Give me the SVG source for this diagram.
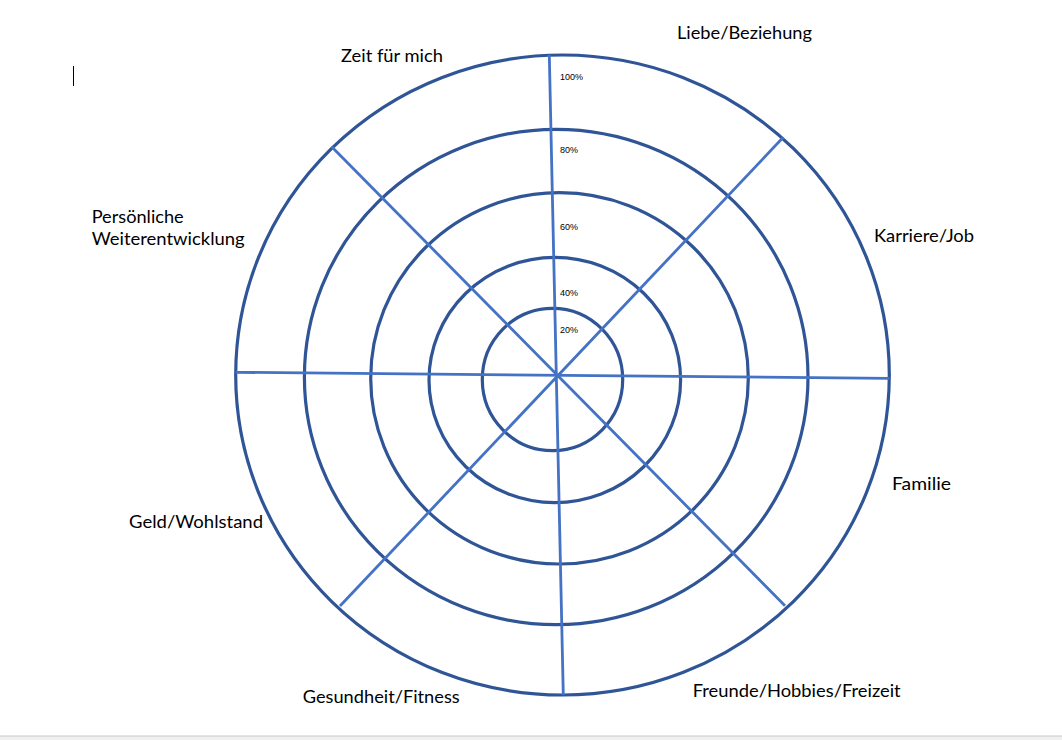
<svg xmlns="http://www.w3.org/2000/svg" width="1062" height="740" viewBox="0 0 1062 740">
  <style>
    .ring { fill: none; stroke: #2F5597; stroke-width: 3.2; }
    .spoke { stroke: #4472C4; stroke-width: 2.8; stroke-linecap: butt; }
    .lbl { font-family: Lato, "Liberation Sans", Arial, sans-serif; font-size: 18px; fill: #000; }
    .pct { font-family: "Liberation Sans", Arial, sans-serif; font-size: 9px; fill: #000; }
  </style>
  <rect x="0" y="0" width="1062" height="740" fill="#ffffff"/>
  <rect x="0" y="736" width="1062" height="4" fill="#f0f0f0"/>
  <line x1="0" y1="736" x2="1062" y2="736" stroke="#c8c8c8" stroke-width="1"/>
  <line x1="73.5" y1="66" x2="73.5" y2="86" stroke="#000" stroke-width="1"/>

  <g id="rings">
    <ellipse id="ring100" class="ring" cx="562.5" cy="375" rx="326.8" ry="320"/>
    <ellipse id="ring80" class="ring" cx="556.2" cy="377" rx="251.8" ry="247.7"/>
    <ellipse id="ring60" class="ring" cx="559.5" cy="378.3" rx="188.8" ry="185.7"/>
    <ellipse id="ring40" class="ring" cx="554.8" cy="380" rx="125.8" ry="122.7"/>
    <ellipse id="ring20" class="ring" cx="552.5" cy="379.5" rx="70.2" ry="71.2"/>
  </g>

  <g id="connectors">
    <line class="spoke" x1="549.3" y1="55" x2="563.3" y2="695"/>
    <line class="spoke" x1="235.7" y1="372.3" x2="889.3" y2="378.3"/>
    <line class="spoke" x1="331.7" y1="146.7" x2="785" y2="605.7"/>
    <line class="spoke" x1="783.3" y1="137.3" x2="340" y2="606"/>
  </g>

  <g id="percent-labels">
    <text class="pct" x="560" y="80">100%</text>
    <text class="pct" x="560" y="152.5">80%</text>
    <text class="pct" x="560" y="229.5">60%</text>
    <text class="pct" x="560" y="295.5">40%</text>
    <text class="pct" x="560" y="333">20%</text>
  </g>

  <g id="label-liebe"><text class="lbl" x="677" y="39" textLength="135" lengthAdjust="spacingAndGlyphs">Liebe/Beziehung</text></g>
  <g id="label-karriere"><text class="lbl" x="874" y="242" textLength="100" lengthAdjust="spacingAndGlyphs">Karriere/Job</text></g>
  <g id="label-familie"><text class="lbl" x="892" y="490" textLength="59" lengthAdjust="spacingAndGlyphs">Familie</text></g>
  <g id="label-freunde"><text class="lbl" x="692.7" y="696.7" textLength="208" lengthAdjust="spacingAndGlyphs">Freunde/Hobbies/Freizeit</text></g>
  <g id="label-gesundheit"><text class="lbl" x="302.7" y="703.3" textLength="157" lengthAdjust="spacingAndGlyphs">Gesundheit/Fitness</text></g>
  <g id="label-geld"><text class="lbl" x="129" y="528" textLength="134" lengthAdjust="spacingAndGlyphs">Geld/Wohlstand</text></g>
  <g id="label-persoenlich">
    <text class="lbl" x="91.7" y="222.7" textLength="92" lengthAdjust="spacingAndGlyphs">Persönliche</text>
    <text class="lbl" x="91.7" y="245" textLength="153" lengthAdjust="spacingAndGlyphs">Weiterentwicklung</text>
  </g>
  <g id="label-zeit"><text class="lbl" x="341" y="61.5" textLength="102" lengthAdjust="spacingAndGlyphs">Zeit für mich</text></g>
</svg>
